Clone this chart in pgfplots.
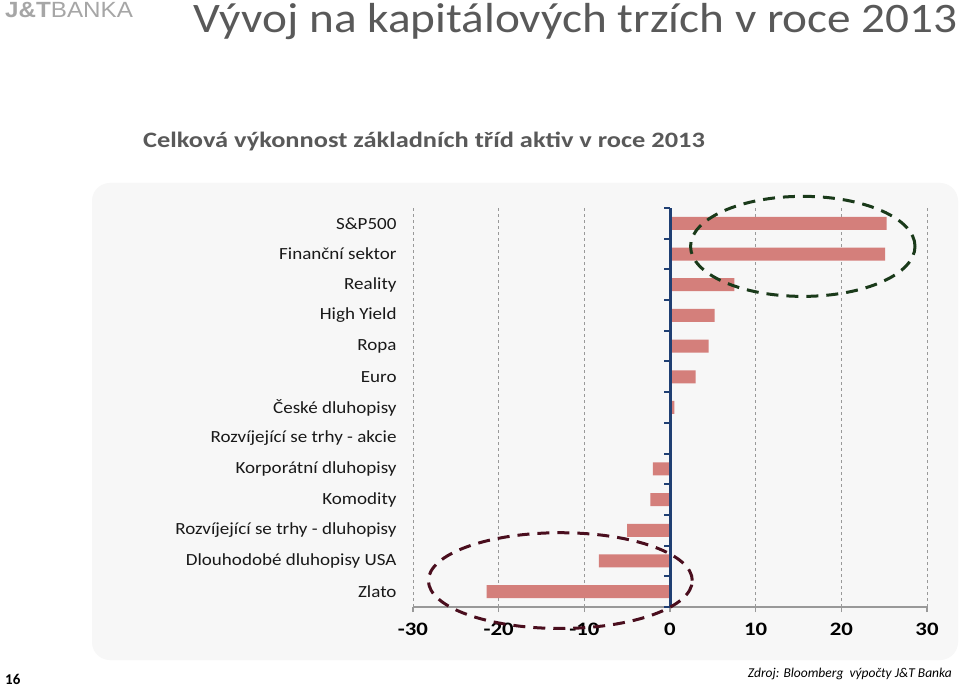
\documentclass[border=0pt]{standalone}
\usepackage{pgfplots}
\pgfplotsset{compat=1.18}
\usepackage{fontspec}
\setmainfont{Carlito}
\newfontfamily\logofont{Liberation Sans}
\definecolor{barred}{RGB}{212,127,123}
\definecolor{titlegray}{RGB}{89,89,89}
\definecolor{panel}{RGB}{247,247,247}
\definecolor{zeroblue}{RGB}{31,63,115}
\definecolor{ringgreen}{RGB}{26,58,26}
\definecolor{ringred}{RGB}{74,14,30}

\begin{document}
\begin{tikzpicture}[x=1pt,y=1pt]
  \fill[white] (0,0) rectangle (960,688);
  \path[use as bounding box] (0,0) rectangle (960,688);
  % panel
  \fill[panel, rounded corners=18pt] (92,28) rectangle (958,505);
  % headings
  \node[anchor=base east, text=titlegray, font=\fontsize{42}{46}\selectfont, inner sep=0, xscale=1.125] at (958,655) {Vývoj na kapitálových trzích v roce 2013};
  \node[anchor=base west, text=titlegray, font=\bfseries\fontsize{22}{26}\selectfont, inner sep=0, xscale=1.2] at (143,540) {Celková výkonnost základních tříd aktiv v roce 2013};
  \node[anchor=base west, text=black!35, font=\logofont\fontsize{22}{24}\selectfont, inner sep=0, xscale=1.1] at (5,670) {\textbf{J\&T}BANKA};
  \node[anchor=base west, font=\bfseries\fontsize{15}{17}\selectfont, inner sep=0] at (5,4) {16};
  \node[anchor=base east, font=\itshape\fontsize{13.5}{15}\selectfont, inner sep=0] at (952,11) {Zdroj: Bloomberg~~výpočty J\&T Banka};

  \begin{axis}[
      at={(413pt,81pt)}, anchor=south west,
      scale only axis,
      width=514pt, height=399pt,
      xmin=-30, xmax=30,
      ymin=-0.5, ymax=12.5,
      axis x line=bottom,
      axis y line=left,
      x axis line style={-, draw=black!40, line width=1.5pt},
      y axis line style={draw=none},
      xtick={-30,-20,-10,0,10,20,30},
      xticklabels={-30,-20,-10,0,10,20,30},
      xtick align=outside,
      major tick length=5pt,
      xtick style={draw=black!40, line width=1.2pt},
      xticklabel style={font=\bfseries\fontsize{19}{21}\selectfont, yshift=-8pt, xscale=1.2},
      xmajorgrids,
      major grid style={dashed, draw=black!40, line width=0.6pt},
      ytick={0,...,12},
      yticklabels={Zlato, Dlouhodobé dluhopisy USA, Rozvíjející se trhy - dluhopisy, Komodity, Korporátní dluhopisy, Rozvíjející se trhy - akcie, České dluhopisy, Euro, Ropa, High Yield, Reality, Finanční sektor, S\&P500},
      ytick style={draw=none},
      yticklabel style={font=\fontsize{17}{19}\selectfont, xshift=-10pt, xscale=1.12, text=black!90},
      clip=false,
    ]
    \addplot[xbar, bar width=13pt, fill=barred, draw=none] coordinates {
      (-21.4,0)
      (-8.3,1)
      (-5.0,2)
      (-2.3,3)
      (-2.0,4)
      (0.2,5)
      (0.5,6)
      (3.0,7)
      (4.5,8)
      (5.2,9)
      (7.5,10)
      (25.1,11)
      (25.3,12)
    };
    \draw[zeroblue, line width=3pt] (axis cs:0,-0.5) -- (axis cs:0,12.5);
    \pgfplotsinvokeforeach{-0.5,0.5,1.5,2.5,3.5,4.5,5.5,6.5,7.5,8.5,9.5,10.5,11.5,12.5}{
      \draw[zeroblue, line width=2pt] (axis cs:0,#1) -- ([xshift=-6pt]axis cs:0,#1);
    }
    \draw[ringgreen, line width=3pt, dash pattern=on 12pt off 8pt]
      (axis cs:15.5,11.25) ellipse [x radius=13.1, y radius=1.63];
    \draw[ringred, line width=3pt, dash pattern=on 12pt off 8pt]
      (axis cs:-12.8,0.36) ellipse [x radius=15.4, y radius=1.56];
  \end{axis}
\end{tikzpicture}
\end{document}
